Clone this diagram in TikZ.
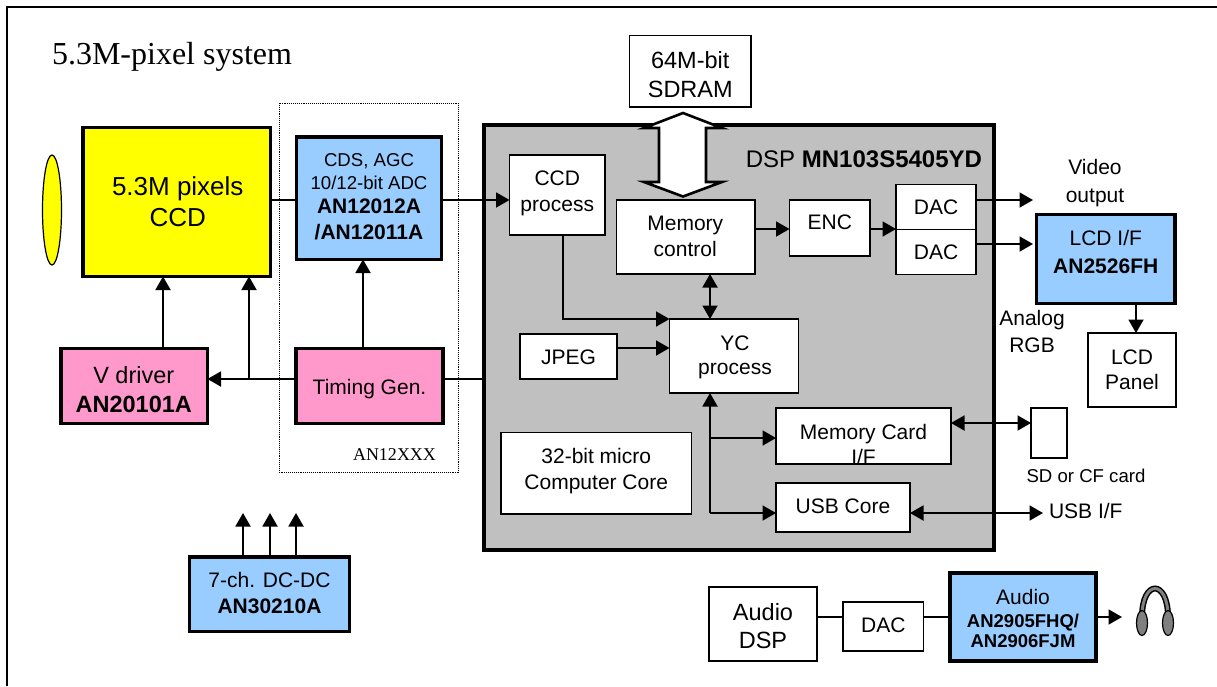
\documentclass[tikz,border=0pt]{standalone}
\usepackage{fontspec}
\setmainfont{Liberation Sans}
\newfontfamily\serifx{Liberation Serif}
\usetikzlibrary{arrows.meta,shapes.geometric}
\definecolor{ccdy}{HTML}{FFFF00}
\definecolor{chipb}{HTML}{99CCFF}
\definecolor{chipp}{HTML}{FF99CC}
\definecolor{dspg}{HTML}{C0C0C0}
\newcommand\fs[1]{\fontsize{#1}{#1}\selectfont}
% text placed at an offset from the node centre, not changing the node size
\newcommand\tx[3]{\raisebox{#2pt}[0pt][0pt]{\makebox[0pt][c]{\hspace*{#1pt}\hspace*{#1pt}\begin{tabular}[c]{@{}c@{}}#3\end{tabular}}}}
\tikzset{
  x=1pt,y=-1pt,
  box/.style={draw=black,fill=white,line width=1.8pt,inner sep=0pt,outer sep=0pt,font=\fs{21},align=center},
  chip/.style={box,line width=3.6pt},
  wire/.style={line width=1.9pt,draw=black},
  arr/.style={wire,-{Triangle[length=13.5pt,width=15pt]}},
  darr/.style={wire,{Triangle[length=13.5pt,width=15pt]}-{Triangle[length=13.5pt,width=15pt]}},
  lab/.style={inner sep=0pt,outer sep=0pt,align=center,font=\fs{21}},
}
\newcommand\bx[7][]{% style; name; x1; y1; x2; y2; text
  \pgfmathsetmacro\bxcx{(#3+#5)/2}\pgfmathsetmacro\bxcy{(#4+#6)/2}
  \pgfmathsetmacro\bxw{#5-#3}\pgfmathsetmacro\bxh{#6-#4}
  \node[#1,minimum width=\bxw pt,minimum height=\bxh pt] (#2) at (\bxcx,\bxcy) {#7};
}
\begin{document}
\begin{tikzpicture}
\useasboundingbox (0,0) rectangle (1217,686);
\fill[white] (0,0) rectangle (1217,686);
% outer frame
\draw[line width=2.6pt,line cap=butt] (7,686) -- (7,7) -- (1217,7);
\node[lab,anchor=base west,font=\serifx\fs{32}] (title) at (52,64) {5.3M-pixel system};
% dotted group
\draw[line width=0.9pt,densely dotted] (279,103) rectangle (458,472);
\node[lab,font=\serifx\fs{18}] (an12) at (394.5,455) {AN12XXX};
% lens
\node[draw=black,fill=ccdy,line width=1.2pt,ellipse,minimum width=19pt,minimum height=110pt,inner sep=0pt] (lens) at (52,210) {};
% CCD side
\bx[chip,fill=ccdy,font=\fs{26}]{ccd}{83}{127.5}{270.5}{276.5}{\tx{1}{-9.5}{5.3M pixels\\[4.5pt]CCD}}
\bx[chip,fill=chipb,font=\fs{18.6}]{adc}{296.5}{137}{441.5}{259.5}{\tx{0}{-5.5}{CDS, AGC\\[4pt]10/12-bit ADC\\[4pt]\fs{21}\textbf{AN12012A}\\[5pt]\fs{21}\textbf{/AN12011A}}}
\bx[chip,fill=chipp,font=\fs{23.5}]{vdrv}{61}{348.5}{207.5}{423.5}{\tx{-0.5}{-13}{V driver\\[6pt]\textbf{AN20101A}}}
\bx[chip,fill=chipp,font=\fs{21}]{tg}{296}{348.5}{443}{423.5}{\tx{0}{-9}{Timing Gen.}}
\bx[chip,fill=chipb,font=\fs{21}]{dcdc}{189.5}{557}{349.5}{631.5}{\tx{0}{-7}{7-ch. DC-DC\\[5pt]\fs{21}\textbf{AN30210A}}}
% DSP
\bx[chip,line width=4pt,fill=dspg]{dsp}{484}{125}{993.5}{550}{}
\node[lab,anchor=base east,font=\fs{24}] (dsplab) at (982,167.5) {DSP \textbf{MN103S5405YD}};
% external boxes
\bx[box,font=\fs{23.5}]{sdram}{629.5}{35.5}{751}{107}{\tx{0}{-12.5}{64M-bit\\[5.5pt]SDRAM}}
% inner boxes
\bx[box]{ccdp}{509.5}{155}{605}{235}{\tx{0}{-4.5}{CCD\\[5.5pt]process}}
\bx[box]{memc}{616.5}{200}{755}{274}{\tx{-0.5}{-7.5}{Memory\\[4pt]control}}
\bx[box]{enc}{789.5}{200}{870}{256}{\tx{0}{-2}{ENC}}
\bx[box]{daca}{896}{184.5}{976}{229.5}{\tx{0}{-8}{DAC}}
\bx[box]{dacb}{896}{229.5}{976}{274.5}{\tx{0}{-8}{DAC}}
\bx[box]{yc}{669.5}{319}{798.5}{393}{\tx{1}{-7.5}{YC\\[3pt]process}}
\bx[box]{jpeg}{520}{334}{617}{379}{\tx{0}{-9}{JPEG}}
\bx[box]{core}{501}{432.5}{691.5}{514}{\tx{0}{-4}{32-bit micro\\[5pt]Computer Core}}
\bx[box,path picture={\node[lab] at ([yshift=-8.5pt]path picture bounding box.center) {Memory Card\\[3.5pt]I/F};}]{card}{776}{408}{951}{464}{}
\bx[box]{usb}{776}{483}{910}{532}{\tx{0}{-7}{USB Core}}
% right side
\bx[chip,fill=chipb]{lcdif}{1036.5}{214.5}{1175}{303.5}{\tx{0}{-1}{LCD I/F\\[7pt]\textbf{AN2526FH}}}
\bx[box]{panel}{1088}{333}{1176}{407}{\tx{0}{-8}{LCD\\[3.5pt]Panel}}
\bx[box]{sd}{1031}{408}{1067}{458}{}
\node[lab,font=\fs{18.6}] (sdlab) at (1086,476) {SD or CF card};
\node[lab,anchor=west] (usblab) at (1049,511) {USB I/F};
\node[lab] (video) at (1095,183) {Video\\[6.5pt]output};
\node[lab] (rgb) at (1032,331) {Analog\\[6pt]RGB};
% audio
\bx[box,font=\fs{23.5}]{adsp}{709}{587}{817}{661}{\tx{0}{-11.5}{Audio\\[4pt]DSP}}
\bx[box]{dacc}{843}{602}{923.5}{651}{\tx{0}{-7}{DAC}}
\bx[chip,fill=chipb]{audio}{950}{573}{1096}{661}{\tx{0}{-9.5}{Audio\\[2pt]\fs{18.5}\textbf{AN2905FHQ/}\\[-1pt]\fs{18.5}\textbf{AN2906FJM}}}
% connectors
\draw[wire] (ccd.east |- 0,200) -- (adc.west |- 0,200);
\draw[arr] (adc.east |- 0,200) -- (ccdp.west |- 0,200);
\draw[arr] (vdrv.north -| 163,0) -- (ccd.south -| 163,0);
\coordinate (jn) at (249,379);
\draw[arr] (jn) -- (ccd.south -| jn);
\draw[arr] (tg.north -| 363,0) -- (adc.south -| 363,0);
\draw[arr] (tg.west |- jn) -- (vdrv.east |- jn);
\draw[wire] (tg.east |- jn) -- (dsp.west |- jn);
\foreach \px/\nm in {243/a,270/b,296/c}{
  \coordinate (dc\nm) at (\px,513);
  \draw[arr] (dcdc.north -| dc\nm) -- (dc\nm);
}
% wide bus
\draw[line width=2.6pt,fill=white,miter limit=10] (683,113) -- (722,128) -- (706,128) -- (706,182) -- (722,182) -- (683,196.5) -- (644,182) -- (659,182) -- (659,128) -- (644,128) -- cycle;
\coordinate (busx) at (710,0);
\draw[arr] (memc.east |- 0,229) -- (enc.west |- 0,229);
\draw[arr] (enc.east |- 0,229) -- (daca.west |- 0,229);
\coordinate (va) at (1033,200);
\coordinate (vb) at (1033,244);
\draw[arr] (daca.east |- va) -- (va);
\draw[arr] (dacb.east |- vb) -- (vb);
\draw[arr] (lcdif.south -| 1136,0) -- (panel.north -| 1136,0);
\draw[arr] (ccdp.south -| 563,0) -- (563,319) -- (yc.west |- 0,319);
\draw[darr] (memc.south -| busx) -- (yc.north -| busx);
\draw[arr] (jpeg.east |- 0,348) -- (yc.west |- 0,348);
\coordinate (bb) at (710,513);
\draw[arr] (710,513) -- (yc.south -| bb);
\draw[arr] (710,438) -- (card.west |- 0,438);
\draw[arr] (bb) -- (usb.west |- bb);
\draw[darr] (card.east |- 0,423) -- (sd.west |- 0,423);
\coordinate (ue) at (1043,513);
\draw[darr] (usb.east |- ue) -- (ue);
\draw[wire] (adsp.east |- 0,617) -- (dacc.west |- 0,617);
\draw[wire] (dacc.east |- 0,617) -- (audio.west |- 0,617);
\coordinate (hp) at (1122,617);
\draw[arr] (audio.east |- hp) -- (hp);
% headphones
\draw[line width=6pt] (1142,617) .. controls (1142,579) and (1168,579) .. (1168,617);
\draw[line width=3pt,draw=gray] (1142,617) .. controls (1142,579) and (1168,579) .. (1168,617);
\node[draw=black,fill=gray,ellipse,line width=1.2pt,minimum width=11pt,minimum height=25pt,inner sep=0pt] (earl) at (1142,623) {};
\node[draw=black,fill=gray,ellipse,line width=1.2pt,minimum width=11pt,minimum height=25pt,inner sep=0pt] (earr) at (1168,623) {};
\end{tikzpicture}
\end{document}
